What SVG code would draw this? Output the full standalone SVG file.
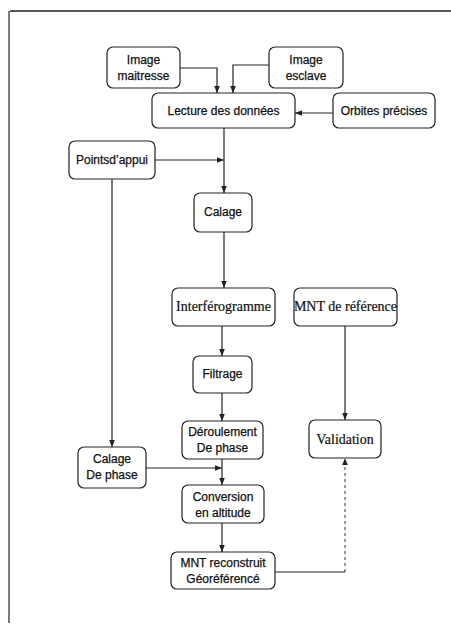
<svg xmlns="http://www.w3.org/2000/svg" width="451" height="625" viewBox="0 0 451 625">
<style>
.box{fill:#fff;stroke:#222;stroke-width:1.2}
.t{font-family:"Liberation Sans",Arial,sans-serif;font-size:12px;fill:#111;text-anchor:middle;stroke:#111;stroke-width:0.25}
.s{font-family:"Liberation Serif","Times New Roman",serif;font-size:14px;fill:#111;text-anchor:middle;stroke:#111;stroke-width:0.2}
.c{fill:none;stroke:#222;stroke-width:1.2}
.d{fill:none;stroke:#333;stroke-width:1;stroke-dasharray:3 3}
</style>
<defs>
<marker id="a" viewBox="0 0 10 10" refX="10" refY="5" markerWidth="7" markerHeight="7" orient="auto-start-reverse" markerUnits="userSpaceOnUse"><path d="M0,1 L10,5 L0,9 z" fill="#222"/></marker>
</defs>
<rect width="451" height="625" fill="#fff"/>
<g id="frame">
<line x1="10" y1="11" x2="451" y2="11" stroke="#222" stroke-width="1.5"/>
<line x1="9" y1="11" x2="9" y2="623" stroke="#333" stroke-width="1.3"/>
</g>
<g id="connectors">
<path class="c" d="M180,68 H217 V93" marker-end="url(#a)"/>
<path class="c" d="M269,65 H233 V93" marker-end="url(#a)"/>
<path class="c" d="M333,113 H295" marker-end="url(#a)"/>
<path class="c" d="M224,128 V193" marker-end="url(#a)"/>
<path class="c" d="M155,160 H224" marker-end="url(#a)"/>
<path class="c" d="M112,179 V447" marker-end="url(#a)"/>
<path class="c" d="M224,232 V288" marker-end="url(#a)"/>
<path class="c" d="M222,326 V356" marker-end="url(#a)"/>
<path class="c" d="M222,393 V421" marker-end="url(#a)"/>
<path class="c" d="M345,326 V420" marker-end="url(#a)"/>
<path class="c" d="M146,468 H222" marker-end="url(#a)"/>
<path class="c" d="M222,459 V485" marker-end="url(#a)"/>
<path class="c" d="M222,523 V552" marker-end="url(#a)"/>
<path class="c" d="M275,572 H345"/>
<path class="d" d="M345,572 V458" marker-end="url(#a)"/>
</g>
<g id="image-maitresse"><rect class="box" x="107" y="47" width="73" height="41" rx="6"/><text class="t" x="143.5" y="64">Image</text><text class="t" x="143.5" y="80">maitresse</text></g>
<g id="image-esclave"><rect class="box" x="269" y="47" width="74" height="41" rx="6"/><text class="t" x="306" y="64">Image</text><text class="t" x="306" y="80">esclave</text></g>
<g id="lecture"><rect class="box" x="152" y="93" width="143" height="35" rx="6"/><text class="t" x="223.5" y="115">Lecture des données</text></g>
<g id="orbites"><rect class="box" x="333" y="93" width="102" height="35" rx="6"/><text class="t" x="384" y="115">Orbites précises</text></g>
<g id="points-appui"><rect class="box" x="69" y="141" width="86" height="38" rx="6"/><text class="t" x="112" y="164">Pointsd’appui</text></g>
<g id="calage"><rect class="box" x="194" y="193" width="58" height="39" rx="6"/><text class="t" x="223" y="216">Calage</text></g>
<g id="interferogramme"><rect class="box" x="172" y="288" width="103" height="38" rx="6"/><text class="s" x="223.5" y="311">Interférogramme</text></g>
<g id="mnt-reference"><rect class="box" x="294" y="288" width="103" height="38" rx="6"/><text class="s" x="345.5" y="311" font-size="13">MNT de référence</text></g>
<g id="filtrage"><rect class="box" x="193" y="356" width="59" height="37" rx="6"/><text class="t" x="222.5" y="378">Filtrage</text></g>
<g id="deroulement"><rect class="box" x="182" y="421" width="81" height="38" rx="6"/><text class="t" x="222.5" y="436">Déroulement</text><text class="t" x="222.5" y="452">De phase</text></g>
<g id="validation"><rect class="box" x="309" y="420" width="72" height="38" rx="6"/><text class="s" x="345" y="444">Validation</text></g>
<g id="calage-phase"><rect class="box" x="78" y="447" width="68" height="41" rx="6"/><text class="t" x="112" y="463">Calage</text><text class="t" x="112" y="479">De phase</text></g>
<g id="conversion"><rect class="box" x="182" y="485" width="82" height="38" rx="6"/><text class="t" x="223" y="501">Conversion</text><text class="t" x="223" y="517">en altitude</text></g>
<g id="mnt-reconstruit"><rect class="box" x="171" y="552" width="104" height="37" rx="6"/><text class="t" x="223" y="567">MNT reconstruit</text><text class="t" x="223" y="583">Géoréférencé</text></g>
</svg>
